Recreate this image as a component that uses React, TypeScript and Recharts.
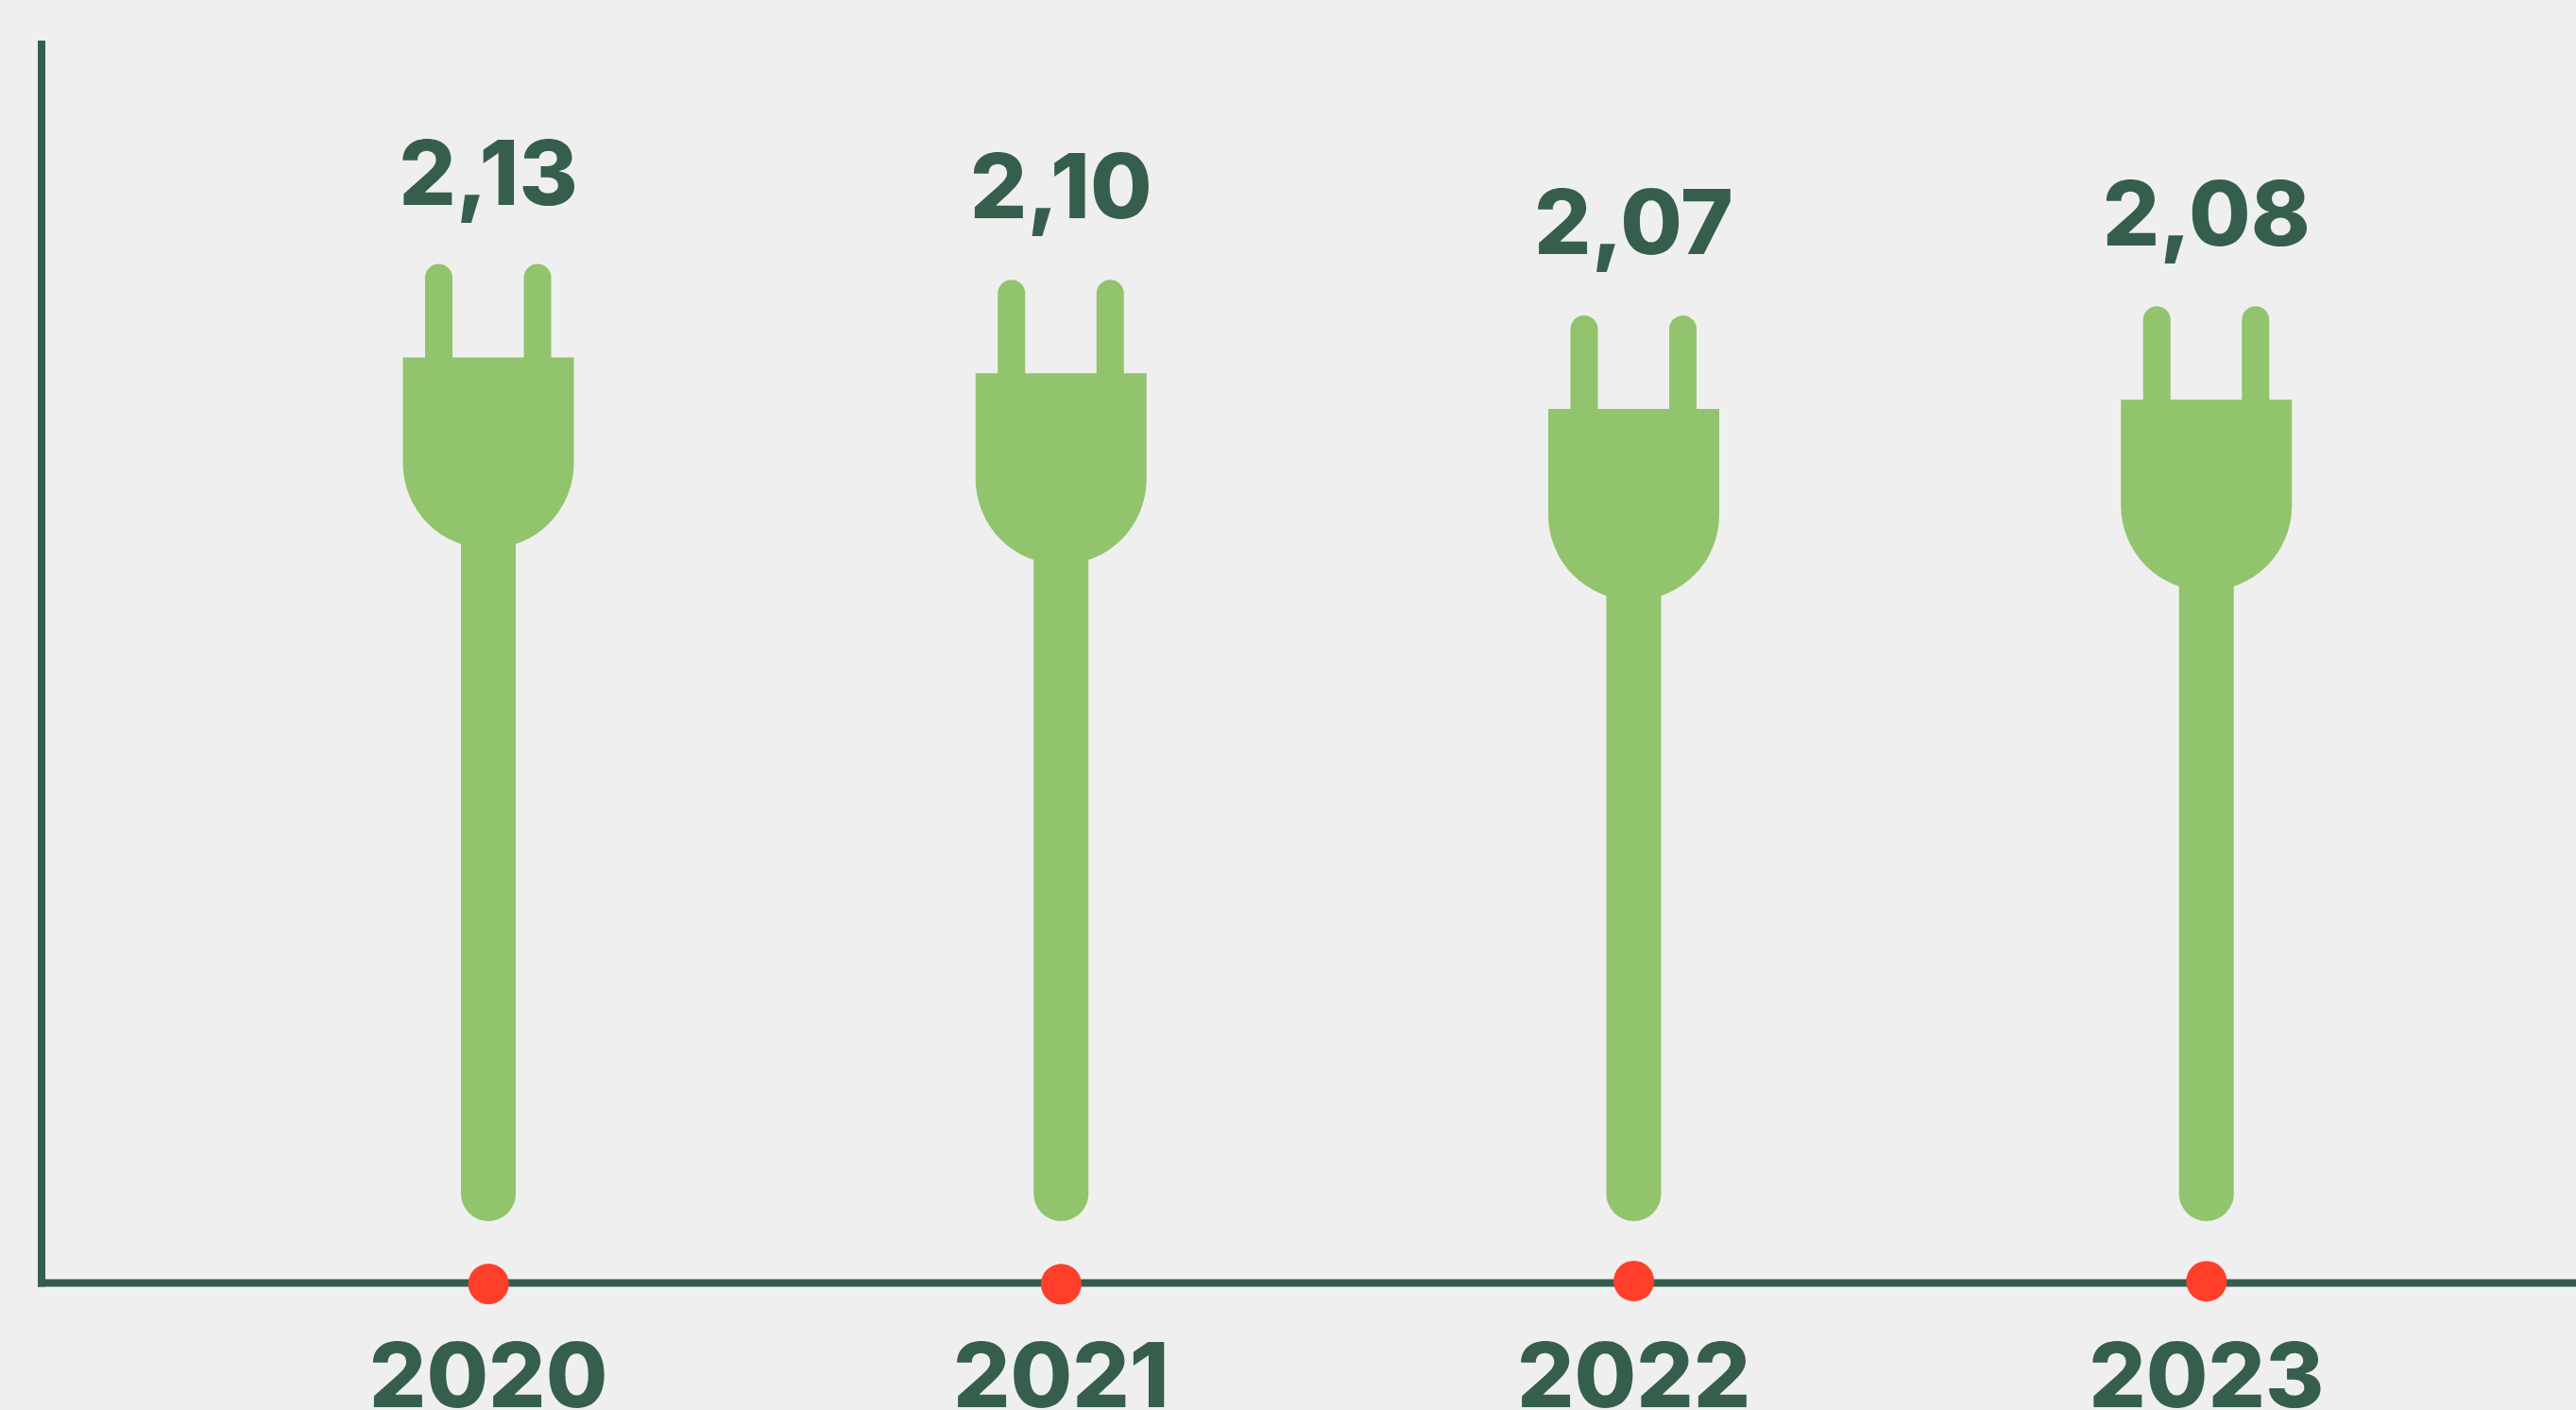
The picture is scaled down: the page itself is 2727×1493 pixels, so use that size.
import React from "react";
import { ComposedChart, Bar, Line, XAxis, YAxis, LabelList } from "recharts";

const years = ["2020", "2021", "2022", "2023"];
const valueLabels = ["2,13", "2,10", "2,07", "2,08"];
const plugLevels = [2.131, 2.098, 2.023, 2.0425];
const dotLevels = [-0.002, -0.0025, 0.004, 0.0035];
const labelGaps = [62, 65, 65, 64];

const chartData = years.map((year, i) => ({
  year,
  label: valueLabels[i],
  level: plugLevels[i],
  dot: dotLevels[i],
}));

const DARK = "#355E4D";
const GREEN = "#91C46C";
const RED = "#FF3F29";
const BG = "#EFEFEF";
const FONT = "Inter, sans-serif";

function PlugShape(props: any) {
  const { x, y, width } = props;
  const cx = x + width / 2;
  const bottom = 1293;
  const r = 90.5;
  const bodyTop = y + 99;
  const arcY = bodyTop + 112;
  const stem = 29;
  const prong = 14.5;
  const body = `M${cx - r},${bodyTop} H${cx + r} V${arcY} A${r},${r} 0 0 1 ${cx - r},${arcY} Z`;
  const stemPath = `M${cx - stem},${arcY} H${cx + stem} V${bottom - stem} A${stem},${stem} 0 0 1 ${cx - stem},${bottom - stem} Z`;
  const prongPath = (c: number) =>
    `M${c - prong},${bodyTop + 1} V${y + prong} A${prong},${prong} 0 0 1 ${c + prong},${y + prong} V${bodyTop + 1} Z`;
  return (
    <g fill={GREEN}>
      <path d={body} />
      <path d={stemPath} />
      <path d={prongPath(cx - 52.5)} />
      <path d={prongPath(cx + 52)} />
    </g>
  );
}

function ValueLabel(props: any) {
  const { x, y, width, value, index } = props;
  return (
    <text
      x={x + width / 2}
      y={y - labelGaps[index]}
      textAnchor="middle"
      fontFamily={FONT}
      fontWeight={800}
      fontSize={95}
      fill={DARK}
    >
      {value}
    </text>
  );
}

function YearTick(props: any) {
  const { x, payload } = props;
  return (
    <text x={x} y={1490} textAnchor="middle" fontFamily={FONT} fontWeight={800} fontSize={95} fill={DARK}>
      {payload.value}
    </text>
  );
}

export default function App() {
  return (
    <div style={{ position: "fixed", left: 0, top: 0, width: 2727, height: 1493, background: BG, overflow: "hidden" }}>
      <ComposedChart
        width={2727}
        height={1493}
        data={chartData}
        margin={{ top: 47, right: 0, bottom: 0, left: 0 }}
        barSize={58}
      >
        <XAxis
          dataKey="year"
          padding={{ left: 170, right: 88 }}
          height={134.5}
          interval={0}
          tickLine={false}
          axisLine={{ stroke: DARK, strokeWidth: 8, strokeLinecap: "square" }}
          tick={<YearTick />}
        />
        <YAxis
          width={44}
          domain={[0, 2.59]}
          allowDataOverflow
          ticks={[]}
          tick={false}
          tickLine={false}
          axisLine={{ stroke: DARK, strokeWidth: 8, strokeLinecap: "square" }}
        />
        <Bar dataKey="level" isAnimationActive={false} shape={<PlugShape />}>
          <LabelList dataKey="label" content={<ValueLabel />} />
        </Bar>
        <Line
          dataKey="dot"
          stroke="none"
          isAnimationActive={false}
          dot={{ r: 21.5, fill: RED, stroke: "none", strokeWidth: 12, clipDot: false }}
          activeDot={false}
        />
      </ComposedChart>
    </div>
  );
}
